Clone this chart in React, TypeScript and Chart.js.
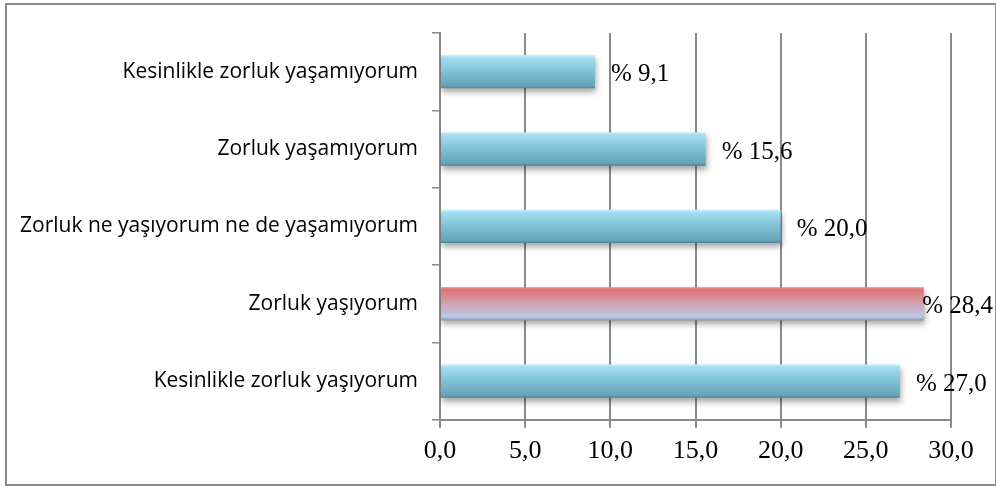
import React, { useEffect, useRef } from "react";
import { Chart, registerables } from "chart.js";

Chart.register(...registerables);

const CATEGORIES = [
  "Kesinlikle zorluk yaşamıyorum",
  "Zorluk yaşamıyorum",
  "Zorluk ne yaşıyorum ne de yaşamıyorum",
  "Zorluk yaşıyorum",
  "Kesinlikle zorluk yaşıyorum",
];
const VALUES = [9.1, 15.6, 20.0, 28.4, 27.0];
const VALUE_LABELS = ["% 9,1", "% 15,6", "% 20,0", "% 28,4", "% 27,0"];
const HIGHLIGHT = [false, false, false, true, false];
const X_TICKS = ["0,0", "5,0", "10,0", "15,0", "20,0", "25,0", "30,0"];

const BAR_PCT = 0.43;
const BLUE_STOPS: [number, string][] = [
  [0, "#c6f1fc"],
  [0.08, "#a3def0"],
  [0.5, "#7fc1d5"],
  [0.92, "#66a4b8"],
  [1, "#4f8494"],
];
const RED_STOPS: [number, string][] = [
  [0, "#e58a8c"],
  [0.1, "#dc7476"],
  [0.5, "#cfa3b3"],
  [0.9, "#bcc7e6"],
  [1, "#8f95a8"],
];

function gradientFor(ctx: any) {
  const chart = ctx.chart;
  const stops = HIGHLIGHT[ctx.dataIndex] ? RED_STOPS : BLUE_STOPS;
  const ys = chart.scales && chart.scales.y;
  if (!ys || !chart.chartArea || ctx.dataIndex === undefined) return stops[2][1];
  const yc = ys.getPixelForValue(ctx.dataIndex);
  const half = (ys.height / CATEGORIES.length) * BAR_PCT / 2;
  const g = chart.ctx.createLinearGradient(0, yc - half, 0, yc + half);
  stops.forEach(([o, c]) => g.addColorStop(o, c));
  return g;
}

const labelPlugin = {
  id: "valueLabels",
  beforeDatasetsDraw(chart: any) {
    const c = chart.ctx;
    c.save();
    c.shadowColor = "rgba(0,0,0,0.35)";
    c.shadowBlur = 6;
    c.shadowOffsetY = 4;
    c.shadowOffsetX = 1;
  },
  afterDatasetsDraw(chart: any) {
    const c = chart.ctx;
    c.restore();
    const meta = chart.getDatasetMeta(0);
    c.save();
    c.font = "25px 'Liberation Serif'";
    c.fillStyle = "#000";
    c.textBaseline = "middle";
    c.textAlign = "left";
    meta.data.forEach((bar: any, i: number) => {
      const text = VALUE_LABELS[i];
      const w = c.measureText(text).width;
      const x = Math.min(bar.x + 16, 993 - w);
      c.fillText(text, x, bar.y + 3);
    });
    c.restore();
  },
};

export default function App() {
  const ref = useRef<HTMLCanvasElement>(null);
  useEffect(() => {
    if (!ref.current) return;
    const chart = new Chart(ref.current, {
      type: "bar",
      data: {
        labels: CATEGORIES,
        datasets: [
          {
            data: VALUES,
            backgroundColor: gradientFor as any,
            borderWidth: 0,
            barPercentage: BAR_PCT,
            categoryPercentage: 1,
          },
        ],
      },
      options: {
        indexAxis: "y",
        responsive: false,
        animation: false,
        layout: { padding: { top: 33, right: 45, bottom: 12, left: 0 } },
        plugins: { legend: { display: false }, tooltip: { enabled: false } },
        scales: {
          x: {
            min: 0,
            max: 30,
            ticks: {
              stepSize: 5,
              callback: (_v: any, i: number) => X_TICKS[i],
              font: { family: "'Liberation Serif'", size: 26 },
              color: "#000",
              padding: 8,
            },
            grid: { color: "#8a8a8a", lineWidth: 2, tickLength: 8 },
            border: { display: true, color: "#8a8a8a", width: 2 },
          },
          y: {
            grid: {
              offset: true,
              drawOnChartArea: false,
              drawTicks: true,
              tickLength: 8,
              color: "#8a8a8a",
              lineWidth: 1.5,
            },
            border: { display: true, color: "#8a8a8a", width: 2 },
            ticks: {
              font: { family: "'Open Sans'", size: 21 },
              color: "#000",
              padding: 14,
            },
            afterFit: (s: any) => {
              s.width = 440;
            },
          },
        },
      },
      plugins: [labelPlugin],
    });
    return () => chart.destroy();
  }, []);

  return (
    <div style={{ position: "absolute", left: 0, top: 0, width: 996, height: 487, background: "#fff" }}>
      <div
        style={{
          position: "absolute",
          left: 5,
          top: 3,
          width: 988,
          height: 479,
          border: "2px solid #8c8c8c",
        }}
      />
      <canvas ref={ref} width={996} height={487} style={{ position: "absolute", left: 0, top: 0 }} />
    </div>
  );
}
